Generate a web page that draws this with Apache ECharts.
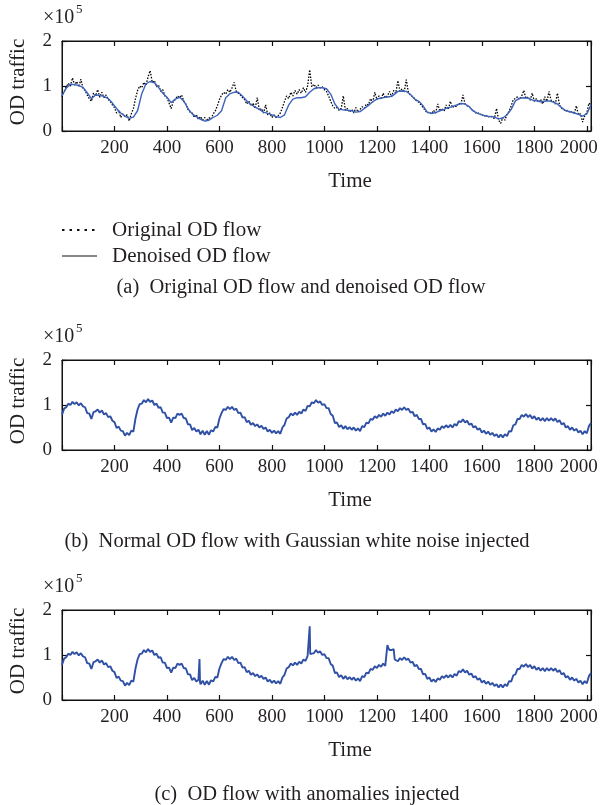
<!DOCTYPE html>
<html>
<head>
<meta charset="utf-8">
<script src="https://cdn.jsdelivr.net/npm/echarts@6/dist/echarts.min.js"></script>
<style>
  html, body { margin: 0; padding: 0; background: #fff; }
  #chart { width: 602px; height: 805px; }
</style>
</head>
<body>
<div id="chart"></div>
<script>
// Time axis: 5-minute bins over one week (0 .. 2016)
const timeEnd = 2016;
const fineStep = 8;     // sampling step of the noisy series
const smoothStep = 16;  // sampling step of the denoised series
const xTicks = [200, 400, 600, 800, 1000, 1200, 1400, 1600, 1800, 2000];
const yTicks = [0, 1, 2];

// (a) original OD flow, one value every 8 time units (x1e5)
const originalFlow = [
  0.76,0.88,0.98,1.06,1.00,1.18,1.02,1.10,0.98,1.15,0.95,0.90,0.80,0.72,0.66,0.84,
  0.78,0.92,0.75,0.86,0.74,0.80,0.70,0.66,0.58,0.52,0.40,0.46,0.30,0.38,0.32,0.36,
  0.22,0.38,0.50,0.72,0.90,1.00,0.96,1.08,1.02,1.20,1.34,1.08,1.12,0.98,1.02,0.88,
  0.92,0.78,0.74,0.62,0.50,0.66,0.70,0.78,0.74,0.80,0.66,0.60,0.48,0.42,0.40,0.30,
  0.36,0.26,0.32,0.24,0.30,0.22,0.30,0.26,0.38,0.44,0.56,0.70,0.80,0.86,0.82,0.92,
  0.86,0.96,1.08,0.88,0.84,0.80,0.74,0.70,0.60,0.66,0.56,0.62,0.50,0.74,0.46,0.50,
  0.40,0.58,0.36,0.40,0.30,0.36,0.30,0.34,0.40,0.52,0.66,0.78,0.72,0.86,0.78,0.90,
  0.82,0.92,0.84,0.96,0.86,1.00,1.36,0.98,1.04,0.96,1.02,0.96,0.98,0.92,0.88,0.78,
  0.66,0.56,0.50,0.52,0.46,0.50,0.78,0.46,0.50,0.42,0.48,0.40,0.52,0.42,0.48,0.54,
  0.50,0.60,0.58,0.72,0.64,0.86,0.70,0.78,0.70,0.84,0.74,0.78,0.88,0.76,0.90,0.84,
  1.12,0.88,0.94,0.86,1.14,0.86,0.80,0.76,0.72,0.66,0.64,0.58,0.52,0.46,0.40,0.42,
  0.38,0.46,0.40,0.60,0.44,0.50,0.44,0.58,0.48,0.66,0.52,0.56,0.54,0.62,0.58,0.80,
  0.60,0.56,0.54,0.48,0.46,0.40,0.42,0.36,0.38,0.32,0.36,0.30,0.34,0.30,0.28,0.50,
  0.24,0.17,0.30,0.24,0.38,0.44,0.56,0.70,0.72,0.76,0.70,0.78,0.90,0.72,0.76,0.68,
  0.84,0.66,0.72,0.64,0.70,0.60,0.76,0.66,0.88,0.68,0.66,0.60,0.84,0.58,0.50,0.48,
  0.44,0.46,0.40,0.44,0.38,0.56,0.36,0.38,0.20,0.34,0.40,0.62,0.58
];

// (a) denoised OD flow, one value every 16 time units
const denoisedFlow = [
  0.78,0.95,1.04,1.03,1.01,0.97,0.85,0.72,
  0.80,0.79,0.77,0.72,0.62,0.50,0.40,0.33,
  0.28,0.31,0.45,0.83,1.05,1.10,1.07,0.97,
  0.84,0.75,0.63,0.71,0.75,0.67,0.50,0.38,
  0.32,0.26,0.22,0.24,0.30,0.35,0.45,0.74,
  0.83,0.86,0.86,0.77,0.67,0.59,0.53,0.48,
  0.42,0.39,0.36,0.32,0.30,0.36,0.58,0.71,
  0.74,0.74,0.76,0.86,0.94,0.96,0.96,0.94,
  0.82,0.60,0.48,0.47,0.46,0.45,0.42,0.43,
  0.50,0.57,0.65,0.71,0.73,0.75,0.76,0.80,
  0.88,0.89,0.88,0.81,0.71,0.66,0.56,0.42,
  0.39,0.41,0.45,0.48,0.52,0.54,0.58,0.61,
  0.60,0.54,0.44,0.39,0.36,0.33,0.32,0.31,
  0.27,0.29,0.36,0.48,0.67,0.73,0.74,0.73,
  0.69,0.67,0.65,0.66,0.67,0.64,0.60,0.52,
  0.45,0.43,0.40,0.37,0.33,0.38,0.58
];

// (b) normal OD flow with Gaussian white noise, one value every 8 time units
const noisyFlow = [
  0.78,0.92,0.95,1.03,1.00,1.07,1.02,1.06,0.99,1.04,0.97,0.95,0.82,0.81,0.69,0.84,
  0.86,0.90,0.83,0.88,0.79,0.82,0.73,0.75,0.65,0.62,0.49,0.52,0.43,0.42,0.32,0.38,
  0.33,0.43,0.41,0.70,0.90,1.02,1.03,1.11,1.06,1.13,1.07,1.10,1.00,1.03,0.94,0.95,
  0.83,0.83,0.71,0.72,0.61,0.72,0.71,0.81,0.78,0.81,0.71,0.70,0.57,0.57,0.44,0.49,
  0.41,0.45,0.35,0.43,0.34,0.42,0.34,0.44,0.41,0.51,0.50,0.70,0.82,0.91,0.89,0.96,
  0.91,0.96,0.89,0.92,0.82,0.83,0.72,0.73,0.62,0.65,0.56,0.60,0.53,0.57,0.50,0.54,
  0.47,0.50,0.41,0.45,0.38,0.43,0.37,0.42,0.36,0.50,0.56,0.70,0.73,0.81,0.77,0.83,
  0.78,0.85,0.81,0.90,0.87,0.98,0.97,1.06,1.04,1.11,1.05,1.08,1.00,1.02,0.93,0.93,
  0.80,0.76,0.60,0.61,0.51,0.55,0.47,0.53,0.46,0.51,0.45,0.50,0.43,0.48,0.42,0.53,
  0.51,0.61,0.59,0.69,0.67,0.75,0.71,0.78,0.74,0.81,0.76,0.83,0.79,0.86,0.82,0.90,
  0.86,0.93,0.89,0.95,0.89,0.92,0.83,0.85,0.75,0.78,0.69,0.69,0.57,0.58,0.47,0.50,
  0.41,0.46,0.40,0.48,0.45,0.53,0.49,0.55,0.50,0.56,0.50,0.58,0.54,0.64,0.62,0.68,
  0.61,0.65,0.56,0.59,0.50,0.53,0.45,0.48,0.39,0.43,0.36,0.41,0.34,0.38,0.31,0.35,
  0.28,0.34,0.28,0.35,0.31,0.42,0.41,0.55,0.57,0.69,0.69,0.78,0.74,0.80,0.73,0.78,
  0.70,0.75,0.67,0.72,0.65,0.71,0.64,0.71,0.65,0.71,0.65,0.70,0.62,0.66,0.57,0.60,
  0.50,0.53,0.45,0.50,0.43,0.47,0.39,0.43,0.35,0.42,0.37,0.53,0.60
];

// (c) injected anomalies: times and values that replace / add to the noisy flow
const anomalyTimes  = [522, 524, 526, 942, 944, 946, 1238, 1240, 1244, 1248, 1256, 1260, 1264, 1266, 1268];
const anomalyValues = [0.44, 0.91, 0.40, 1.00, 1.64, 1.02, 0.80, 1.22, 1.16, 1.11, 1.11, 1.15, 1.13, 1.12, 0.90];

const font = "'Liberation Serif', 'Times New Roman', serif";
const ink = '#231f20';
const blueB = '#2f50a4';
const blueA = '#3c63bd';

function toPoints(values, step) {
  return values.map((v, i) => [i * step, v]);
}

function withAnomalies(values, step, times, vals) {
  const m = new Map();
  values.forEach((v, i) => m.set(i * step, v));
  times.forEach((t, i) => m.set(t, vals[i]));
  return Array.from(m.entries()).sort((p, q) => p[0] - q[0]);
}

const panels = [
  { top: 41 },
  { top: 360 },
  { top: 610 }
];
const gridLeft = 62, gridWidth = 529, gridHeight = 90;

const grids = [], xAxes = [], yAxes = [];
panels.forEach((p, g) => {
  grids.push({
    left: gridLeft, top: p.top, width: gridWidth, height: gridHeight,
    show: true, borderColor: '#111', borderWidth: 1, backgroundColor: 'transparent'
  });
  const xCommon = {
    type: 'value', gridIndex: g, min: 0, max: timeEnd, interval: 200,
    axisLine: { show: true, onZero: false, lineStyle: { color: '#111', width: 1 } },
    axisTick: { show: true, inside: true, length: 5, lineStyle: { color: '#111', width: 1.2 } },
    splitLine: { show: false }
  };
  xAxes.push(Object.assign({}, xCommon, {
    position: 'bottom',
    axisLabel: {
      show: true, margin: 8, fontFamily: font, fontSize: 19, color: ink,
      showMinLabel: true, showMaxLabel: true,
      formatter: v => xTicks.indexOf(v) < 0 ? '' : (v === 2000 ? '{r|2000}' : String(v)),
      rich: { r: { fontFamily: font, fontSize: 19, color: ink, padding: [0, 16, 0, 0] } }
    }
  }));
  xAxes.push(Object.assign({}, xCommon, { position: 'top', axisLabel: { show: false } }));
  const yCommon = {
    type: 'value', gridIndex: g, min: 0, max: 2, interval: 1,
    axisLine: { show: true, onZero: false, lineStyle: { color: '#111', width: 1 } },
    axisTick: { show: true, inside: true, length: 5, lineStyle: { color: '#111', width: 1.2 } },
    splitLine: { show: false }
  };
  yAxes.push(Object.assign({}, yCommon, {
    position: 'left',
    axisLabel: {
      show: true, margin: 10, fontFamily: font, fontSize: 19, color: ink,
      formatter: v => yTicks.indexOf(v) < 0 ? '' : String(v)
    }
  }));
  yAxes.push(Object.assign({}, yCommon, { position: 'right', axisLabel: { show: false } }));
});

const series = [
  {
    name: 'Original OD flow', type: 'line', xAxisIndex: 0, yAxisIndex: 0,
    data: toPoints(originalFlow, fineStep), showSymbol: false, symbol: 'none',
    lineStyle: { color: '#000', width: 1.3, type: [1.5, 1.5] }, z: 2
  },
  {
    name: 'Denoised OD flow', type: 'line', xAxisIndex: 0, yAxisIndex: 0,
    data: toPoints(denoisedFlow, smoothStep), showSymbol: false, symbol: 'none',
    lineStyle: { color: blueA, width: 1.4 }, z: 3
  },
  {
    name: 'Noisy OD flow', type: 'line', xAxisIndex: 2, yAxisIndex: 2,
    data: toPoints(noisyFlow, fineStep), showSymbol: false, symbol: 'none',
    lineStyle: { color: blueB, width: 1.9 }
  },
  {
    name: 'Anomalous OD flow', type: 'line', xAxisIndex: 4, yAxisIndex: 4,
    data: withAnomalies(noisyFlow, fineStep, anomalyTimes, anomalyValues),
    showSymbol: false, symbol: 'none',
    lineStyle: { color: blueB, width: 1.9 }
  }
];

function txt(x, y, text, size, opts) {
  return Object.assign({
    type: 'text', x: x, y: y,
    style: Object.assign({
      text: text, fontFamily: font, fontSize: size, fill: ink,
      align: 'left', verticalAlign: 'middle'
    }, (opts && opts.style) || {})
  }, (opts && opts.el) || {});
}

const graphic = [];
panels.forEach((p) => {
  // y-axis title
  graphic.push(txt(18, p.top + 41, 'OD traffic', 21, {
    el: { rotation: Math.PI / 2 }, style: { align: 'center' }
  }));
  // exponent marker
  graphic.push(txt(43, p.top - 23, '\u00d710', 20));
  graphic.push(txt(76, p.top - 31, '5', 13));
  // x-axis title
  graphic.push(txt(350, p.top + 140, 'Time', 21, { style: { align: 'center' } }));
});

// legend of panel (a)
graphic.push({
  type: 'line', shape: { x1: 62, y1: 230, x2: 97, y2: 230 },
  style: { stroke: '#111', lineWidth: 2, lineDash: [2.5, 5] }
});
graphic.push(txt(112, 230, 'Original OD flow', 21));
graphic.push({
  type: 'line', shape: { x1: 62, y1: 256, x2: 97, y2: 256 },
  style: { stroke: '#111', lineWidth: 1 }
});
graphic.push(txt(112, 256, 'Denoised OD flow', 21));

// captions
graphic.push(txt(301, 288, '(a)  Original OD flow and denoised OD flow', 20.5, { style: { align: 'center' } }));
graphic.push(txt(297, 542, '(b)  Normal OD flow with Gaussian white noise injected', 20.5, { style: { align: 'center' } }));
graphic.push(txt(307, 795, '(c)  OD flow with anomalies injected', 20.5, { style: { align: 'center' } }));

const chart = echarts.init(document.getElementById('chart'), null, { renderer: 'canvas' });
chart.setOption({
  animation: false,
  backgroundColor: '#fff',
  grid: grids,
  xAxis: xAxes,
  yAxis: yAxes,
  series: series,
  graphic: graphic
});
</script>
</body>
</html>
